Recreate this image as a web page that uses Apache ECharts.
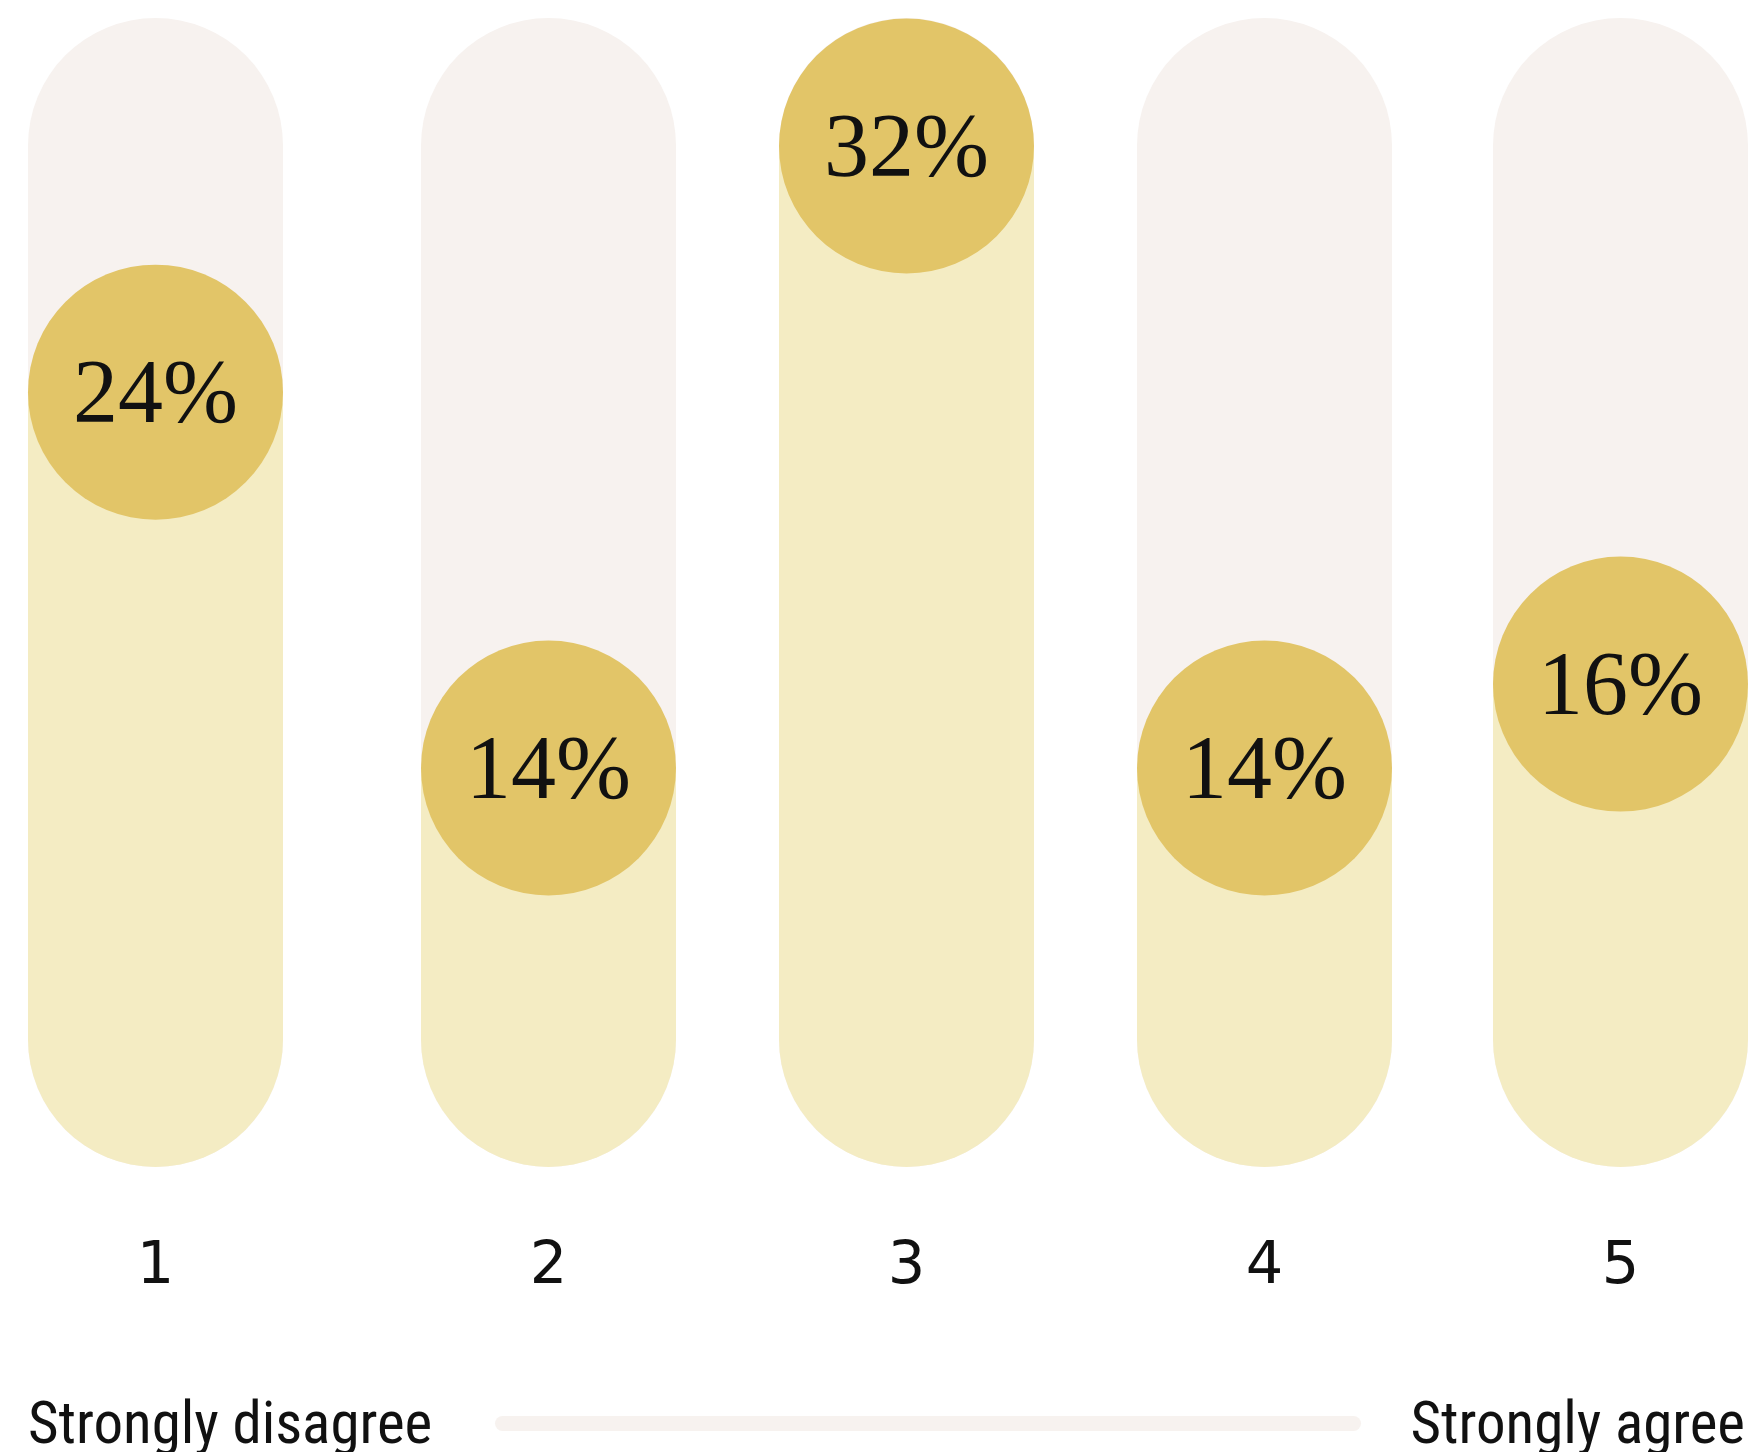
<!DOCTYPE html>
<html>
<head>
<meta charset="utf-8">
<script src="https://cdn.jsdelivr.net/npm/echarts@6/dist/echarts.min.js"></script>
<style>
html,body{margin:0;padding:0;background:#ffffff;}
#chart{width:1753px;height:1452px;}
</style>
</head>
<body>
<div id="chart"></div>
<script>
// ---- data ----
const categories = ['1', '2', '3', '4', '5'];
const percentages = [24, 14, 32, 14, 16];
const scaleLabels = ['Strongly disagree', 'Strongly agree'];

// ---- layout / style ----
const barLefts = [28, 421, 779, 1137, 1493];
const BAR_W = 255, TOP = 18, H = 1149;
// circle height encodes the value on a square-root scale (axis in sqrt units)
const Y_MIN = 2.513, Y_MAX = 6.051;
const PINK = '#F7F2EF', FILL = '#F4ECC3', GOLD = '#E2C568';
const SANS = "'Liberation Sans Narrow', 'Roboto Condensed', Roboto, sans-serif";
const DIGITS = "'DejaVu Sans', sans-serif";
const SERIF = "'Liberation Serif', 'DejaVu Serif', serif";

const chart = echarts.init(document.getElementById('chart'), null, {renderer: 'canvas'});

const grids = [], xAxes = [], yAxes = [], series = [];
categories.forEach((c, i) => {
  grids.push({left: barLefts[i], top: TOP, width: BAR_W, height: H, containLabel: false});
  xAxes.push({
    type: 'category', gridIndex: i, data: [c],
    axisLine: {show: false}, axisTick: {show: false}, splitLine: {show: false},
    axisLabel: {show: true, margin: 101, verticalAlign: 'middle', fontSize: 59,
      fontFamily: DIGITS, color: '#111111'}
  });
  yAxes.push({type: 'value', gridIndex: i, min: Y_MIN, max: Y_MAX, show: false});
  series.push({
    type: 'custom', xAxisIndex: i, yAxisIndex: i,
    data: [[0, percentages[i]]],
    clip: false,
    renderItem: function (params, api) {
      const cs = params.coordSys;
      const v = api.value(1);
      const pt = api.coord([api.value(0), Math.sqrt(v)]);
      const r = cs.width / 2;
      const bottom = cs.y + cs.height;
      return {
        type: 'group',
        children: [
          {type: 'rect', shape: {x: cs.x, y: cs.y, width: cs.width, height: cs.height, r: r},
            style: {fill: PINK}},
          {type: 'rect', shape: {x: cs.x, y: pt[1], width: cs.width, height: bottom - pt[1], r: [0, 0, r, r]},
            style: {fill: FILL}},
          {type: 'circle', shape: {cx: pt[0], cy: pt[1], r: r}, style: {fill: GOLD}},
          {type: 'text', style: {text: v + '%', x: pt[0], y: pt[1] + 6, align: 'center', verticalAlign: 'middle',
            fontSize: 90, fontFamily: SERIF, fill: '#111111'}}
        ]
      };
    }
  });
});

chart.setOption({
  backgroundColor: '#ffffff',
  animation: false,
  grid: grids,
  xAxis: xAxes,
  yAxis: yAxes,
  series: series,
  graphic: [
    {type: 'text', left: 28, top: 1399, style: {text: scaleLabels[0], fontSize: 59, fontFamily: SANS, fill: '#111111'}},
    {type: 'text', right: 8, top: 1399, style: {text: scaleLabels[1], fontSize: 59, fontFamily: SANS, fill: '#111111'}},
    {type: 'rect', left: 495, top: 1416, shape: {width: 866, height: 15, r: 7.5}, style: {fill: PINK}}
  ]
});
</script>
</body>
</html>
